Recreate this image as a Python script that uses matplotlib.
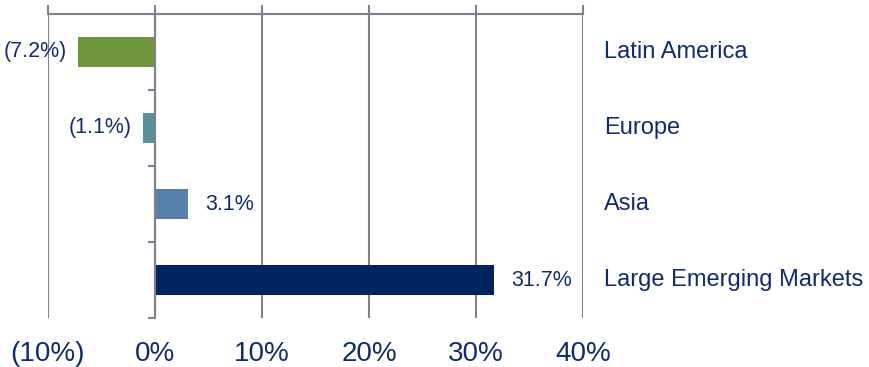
import matplotlib.pyplot as plt
import numpy as np

# data
regions = ["Latin America", "Europe", "Asia", "Large Emerging Markets"]
values = [-7.2, -1.1, 3.1, 31.7]
bar_colors = ["#6E963C", "#578F96", "#5681AD", "#00245F"]
xticks = [-10, 0, 10, 20, 30, 40]
xtick_labels = ["(10%)", "0%", "10%", "20%", "30%", "40%"]

text_color = "#0F2D6B"
line_color = "#80808F"

plt.rcParams["font.family"] = ["Liberation Sans", "DejaVu Sans"]

fig = plt.figure(figsize=(8.69, 3.67), dpi=100)
ax = fig.add_axes([48 / 869, 1 - 318 / 367, 535 / 869, 304 / 367])

y = np.arange(len(regions))
ax.barh(y, values, height=0.4, color=bar_colors, zorder=3)

ax.set_xlim(-10, 40)
ax.set_ylim(3.5, -0.5)

# vertical gridlines + top ticks poking up
ax.set_xticks(xticks)
ax.set_xticklabels(xtick_labels, fontsize=20, color=text_color)
ax.grid(axis="x", color=line_color, linewidth=1.5, zorder=1)
ax.tick_params(axis="x", which="major", top=True, bottom=False,
               labeltop=False, labelbottom=True, direction="out",
               length=6.5, width=1.5, color=line_color, pad=10)

# y axis sits at zero with ticks between categories
ax.spines["left"].set_position(("data", 0))
ax.spines["left"].set_color(line_color)
ax.spines["left"].set_linewidth(1.5)
ax.spines["left"].set_zorder(4)
ax.spines["top"].set_color(line_color)
ax.spines["top"].set_linewidth(1.5)
ax.spines["right"].set_visible(False)
ax.spines["bottom"].set_visible(False)
ax.set_yticks([0.5, 1.5, 2.5, 3.5])
ax.set_yticklabels([])
ax.tick_params(axis="y", direction="out", length=5, width=1.5, color=line_color)

# value labels
for yi, v in zip(y, values):
    lbl = "(%.1f%%)" % abs(v) if v < 0 else "%.1f%%" % v
    off = -8 if v < 0 else 12
    ax.annotate(lbl, (v, yi), xytext=(off, 0), textcoords="offset points",
                ha="right" if v < 0 else "left", va="center",
                fontsize=15.5, color=text_color, zorder=5)

# category names on the right
for yi, name in zip(y, regions):
    ax.text(1.04, yi, name, transform=ax.get_yaxis_transform(),
            ha="left", va="center", fontsize=17, color=text_color)

fig.savefig("out.png", dpi=100)
